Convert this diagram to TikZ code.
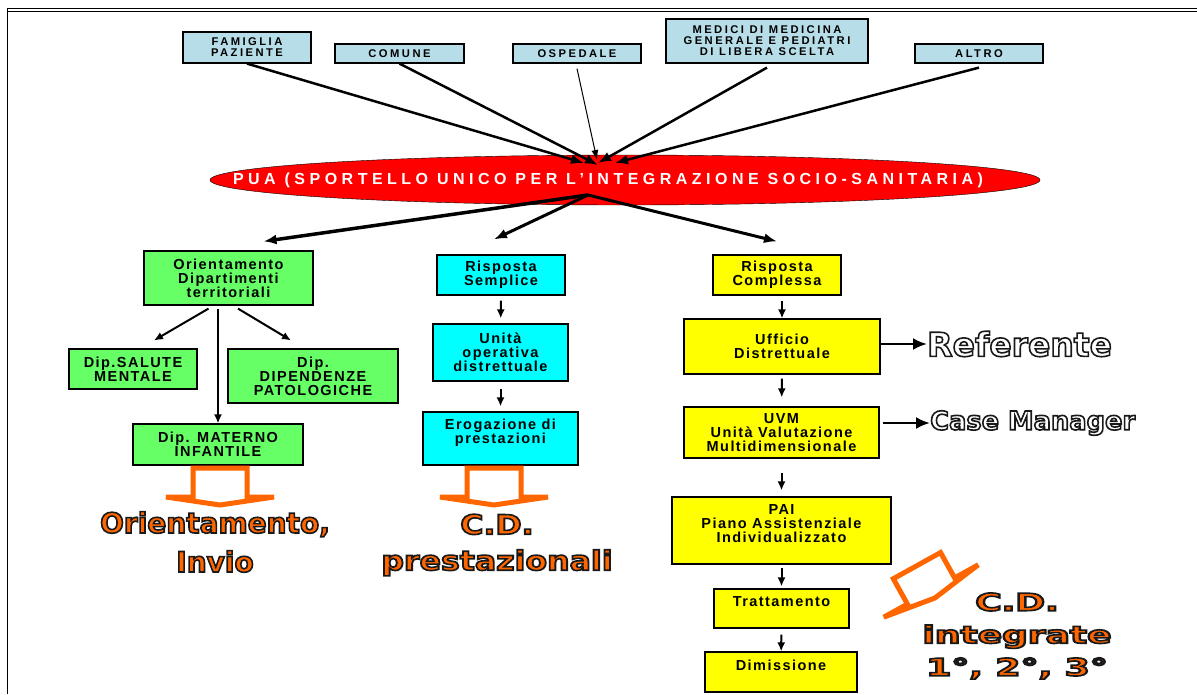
\documentclass[tikz,border=0pt]{standalone}
\usepackage{fontspec}
\usepackage{graphicx}
\setmainfont{Liberation Sans}
\newfontfamily\boxfont[LetterSpace=10]{Liberation Sans}
\newfontfamily\capsfont[LetterSpace=22]{Liberation Sans}
\newfontfamily\puafont[LetterSpace=28]{Liberation Sans}
\newfontfamily\bigfont{DejaVu Sans}
\usetikzlibrary{shapes.geometric,arrows.meta}
\definecolor{srcblue}{RGB}{183,222,232}
\definecolor{dipgreen}{RGB}{102,255,102}
\definecolor{semcyan}{RGB}{0,255,255}
\definecolor{comyellow}{RGB}{255,255,0}
\definecolor{cdorange}{RGB}{255,102,0}
\definecolor{puared}{RGB}{255,0,0}
\tikzset{
  >={Latex[length=9pt,width=8pt]},
}
\tikzstyle{box}=[draw,line width=1.2pt,inner sep=0pt,align=center,
  font=\boxfont\bfseries\fontsize{14.5}{14}\selectfont]
\tikzstyle{srcbox}=[box,fill=srcblue,font=\capsfont\bfseries\fontsize{11.2}{11}\selectfont]
\tikzstyle{dipbox}=[box,fill=dipgreen]
\tikzstyle{semplbox}=[box,fill=semcyan]
\tikzstyle{complbox}=[box,fill=comyellow]
\tikzstyle{pua}=[ellipse,draw,fill=puared,inner sep=0pt,text=white,
  minimum width=830pt,minimum height=50pt,
  font=\puafont\bfseries\fontsize{16}{18}\selectfont]
\tikzstyle{feed}=[-{Latex[length=13pt,width=10pt]},line width=2.5pt]
\tikzstyle{branch}=[-{Latex[length=13pt,width=10pt]},line width=3pt]
\tikzstyle{flow}=[->,line width=2pt]
\tikzstyle{pointer}=[-{Latex[length=14pt,width=12pt]},line width=2.5pt]
\tikzstyle{outcome}=[line width=5pt,cdorange,line join=miter]
\tikzstyle{bigtext}=[align=center,inner sep=0pt]
% outlined label: #1 xscale, #2 fill colour, #3 text (fill + black stroke)
\newcommand{\cdlabel}[3]{\scalebox{#1}[1]{\textcolor{#2}{%
  \special{pdf:literal direct 0.1 0.1 0.1 RG 1.6 w 2 Tr}#3\special{pdf:literal direct 0 Tr}}}}
% hollow orange arrow: #1 position, #2 rotation
\newcommand{\hollowarrow}[2]{\draw[outcome,shift={#1},rotate=#2]
  (-27,-29) -- (-27,0) -- (-54,0) -- (0,8) -- (54,0) -- (27,0) -- (27,-29) -- cycle;}

\begin{document}
\begin{tikzpicture}[x=1pt,y=-1pt]
  \useasboundingbox (0,0) rectangle (1197,694);
  \draw[line width=0.8pt] (7,694) -- (7,8) -- (1197,8);
  \draw[line width=0.8pt] (7,11) -- (1197,11);

  % sources
  \node[srcbox,minimum width=128pt,minimum height=31pt] (fam) at (247,47.5) {FAMIGLIA\\PAZIENTE};
  \node[srcbox,minimum width=129pt,minimum height=19pt] (comune) at (399.5,53.5) {COMUNE};
  \node[srcbox,minimum width=128pt,minimum height=19pt] (osped) at (577,53.5) {OSPEDALE};
  \node[srcbox,minimum width=202pt,minimum height=44pt] (medici) at (767,41) {MEDICI DI MEDICINA\\GENERALE E PEDIATRI\\DI LIBERA SCELTA};
  \node[srcbox,minimum width=128pt,minimum height=19pt] (altro) at (979,53.5) {ALTRO};

  \node[pua] (pua) at (625,180) {\makebox[0pt]{PUA (SPORTELLO UNICO PER L’INTEGRAZIONE SOCIO-SANITARIA)\hspace{34pt}}};
  \coordinate (hubin) at (595,163);
  \coordinate (hubout) at (588,195);

  \draw[feed] (fam.south) -- ([xshift=-11pt]hubin);
  \draw[feed] (comune.south) -- ([shift={(3,2)}]hubin);
  \draw[-{Latex[length=10pt,width=7pt]},line width=1pt] ([yshift=-5pt]osped.south) -- ([shift={(2,-3)}]hubin);
  \draw[feed] ([yshift=-4pt]medici.south) -- ([xshift=3pt]hubin);
  \draw[feed] ([yshift=-4pt]altro.south) -- ([xshift=20pt]hubin);

  % left branch
  \node[dipbox,minimum width=169pt,minimum height=54pt] (orient) at (228.5,278) {Orientamento\\Dipartimenti\\territoriali};
  \node[dipbox,minimum width=128pt,minimum height=40pt] (salute) at (133,369) {Dip.SALUTE\\MENTALE};
  \node[dipbox,minimum width=170pt,minimum height=54pt] (dipend) at (313,376) {Dip.\\DIPENDENZE\\PATOLOGICHE};
  \node[dipbox,minimum width=170pt,minimum height=41pt] (materno) at (218,444.5) {Dip. MATERNO\\INFANTILE};

  % middle branch
  \node[semplbox,minimum width=128pt,minimum height=40pt] (rsemp) at (501,275) {Risposta\\Semplice};
  \node[semplbox,minimum width=135pt,minimum height=57pt] (unita) at (500.5,352.5) {Unità\\operativa\\distrettuale};
  \node[semplbox,minimum width=155pt,minimum height=53pt] (eroga) at (500.5,438.5) {Erogazione di\\prestazioni\\\mbox{}};

  % right branch
  \node[complbox,minimum width=128pt,minimum height=40pt] (rcompl) at (777,275) {Risposta\\Complessa};
  \node[complbox,minimum width=196pt,minimum height=55pt] (ufficio) at (782,346.5) {Ufficio\\Distrettuale};
  \node[complbox,minimum width=195pt,minimum height=51pt] (uvm) at (781.5,432.5) {UVM\\Unità Valutazione\\Multidimensionale};
  \node[complbox,minimum width=219pt,minimum height=67pt] (pai) at (781.5,530.5) {PAI\\Piano Assistenziale\\Individualizzato\\\mbox{}};
  \node[complbox,minimum width=135pt,minimum height=39pt] (tratt) at (781.5,608.5) {Trattamento\\\mbox{}};
  \node[complbox,minimum width=152pt,minimum height=40pt] (dimis) at (781,672) {Dimissione\\\mbox{}};

  \draw[branch,line width=3.5pt] (hubout) -- ([shift={(35,-9)}]orient.north);
  \draw[branch] (hubout) -- ([shift={(-7,-15)}]rsemp.north);
  \draw[branch] (hubout) -- ([shift={(0,-13)}]rcompl.north);

  \draw[flow] ([shift={(-20,3)}]orient.south) -- ([shift={(21,-8)}]salute.north);
  \draw[flow] ([shift={(-10.5,3)}]orient.south) -- (materno.north);
  \draw[flow] ([shift={(9.5,3)}]orient.south) -- ([shift={(-22,-8)}]dipend.north);

  \draw[flow,shorten <=5pt,shorten >=5pt] (rsemp) -- (unita);
  \draw[flow,shorten <=7pt,shorten >=5pt] (unita) -- (eroga);

  \draw[flow,shorten <=5pt] (ufficio.north |- rcompl.south) -- (ufficio.north);
  \draw[flow,shorten <=4pt,shorten >=9pt] (ufficio) -- (uvm);
  \draw[flow,shorten <=14pt,shorten >=6pt] (uvm) -- (pai);
  \draw[flow,shorten <=3pt,shorten >=2pt] (pai) -- (tratt);
  \draw[flow,shorten <=6pt] (tratt) -- (dimis);

  % outcomes
  \node[bigtext,anchor=west,font=\bigfont\bfseries\fontsize{33}{36}\selectfont] (referente) at (927,344) {\cdlabel{1}{white}{Referente}};
  \node[bigtext,anchor=west,font=\bigfont\bfseries\fontsize{25.7}{28}\selectfont] (casemgr) at (930,423) {\cdlabel{1}{white}{Case Manager}};
  \draw[pointer] (ufficio.east |- referente.west) -- (referente.west);
  \draw[pointer] ([xshift=3pt]uvm.east |- casemgr.west) -- (casemgr.west);

  \hollowarrow{(220,497)}{0}
  \hollowarrow{(494,497)}{0}
  \hollowarrow{(931,591)}{29}

  \node[bigtext,font=\bigfont\bfseries\fontsize{28}{39}\selectfont] (invio) at (215,542) {\cdlabel{1}{cdorange}{Orientamento,}\\\cdlabel{1}{cdorange}{Invio}};
  \node[bigtext,font=\bigfont\bfseries\fontsize{27}{36}\selectfont] (prest) at (497,545) {\cdlabel{1.17}{cdorange}{C.D.}\\\cdlabel{1.17}{cdorange}{prestazionali}};
  \node[bigtext,font=\bigfont\bfseries\fontsize{24}{32.5}\selectfont] (integr) at (1017,636) {\cdlabel{1.5}{cdorange}{C.D.}\\\cdlabel{1.5}{cdorange}{integrate}\\\cdlabel{1.5}{cdorange}{1°, 2°, 3°}};
\end{tikzpicture}
\end{document}
